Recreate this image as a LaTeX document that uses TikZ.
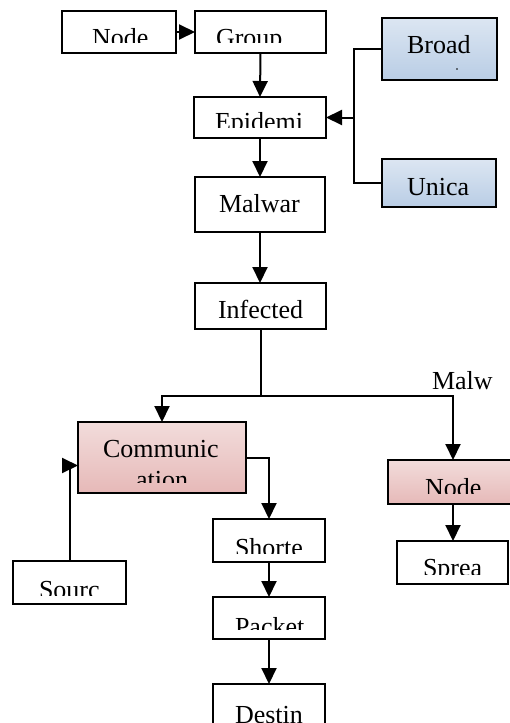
\documentclass[tikz,border=0pt]{standalone}
\usepackage{fontspec}
\setmainfont{Liberation Serif}
\usetikzlibrary{arrows.meta,calc}
\definecolor{bluetop}{HTML}{DCE6F2}
\definecolor{bluebot}{HTML}{B9CDE5}
\definecolor{pinktop}{HTML}{F2DCDB}
\definecolor{pinkbot}{HTML}{E6B9B8}
\tikzset{
  box/.style={draw=black, line width=2pt, rectangle, inner sep=0pt, outer sep=0pt, anchor=north west},
  wbox/.style={box, fill=white},
  bbox/.style={box, top color=bluetop, bottom color=bluebot},
  pbox/.style={box, top color=pinktop, bottom color=pinkbot},
  lbl/.style={anchor=base west, inner sep=0pt, outer sep=0pt, font=\fontsize{26}{31}\selectfont},
  conn/.style={line width=2pt, draw=black},
  arr/.style={conn, -{Triangle[length=16pt,width=15pt]}}
}
\begin{document}
\begin{tikzpicture}[x=1pt,y=-1pt]
\useasboundingbox (0,0) rectangle (509,723);
% boxes
\node[wbox, minimum width=114pt, minimum height=42pt] (nodeA) at (62,11) {};
\node[wbox, minimum width=131pt, minimum height=42pt] (group) at (195,11) {};
\node[bbox, minimum width=115pt, minimum height=62pt] (broad) at (382,18) {};
\node[wbox, minimum width=132pt, minimum height=41pt] (epid) at (194,97) {};
\node[bbox, minimum width=114pt, minimum height=48pt] (unica) at (382,159) {};
\node[wbox, minimum width=130pt, minimum height=55pt] (malwar) at (195,177) {};
\node[wbox, minimum width=131pt, minimum height=46pt] (infected) at (195,283) {};
\node[pbox, minimum width=168pt, minimum height=71pt] (comm) at (78,422) {};
\node[pbox, minimum width=130pt, minimum height=44pt] (nodeB) at (388,460) {};
\node[wbox, minimum width=113pt, minimum height=43pt] (source) at (13,561) {};
\node[wbox, minimum width=112pt, minimum height=43pt] (shorte) at (213,519) {};
\node[wbox, minimum width=111pt, minimum height=43pt] (sprea) at (397,541) {};
\node[wbox, minimum width=112pt, minimum height=42pt] (packet) at (213,597) {};
\node[wbox, minimum width=112pt, minimum height=45pt] (destin) at (213,684) {};
% texts (clipped as in the reference)
\begin{scope}\clip (64,13) rectangle (174,42);
\node[lbl] (tNodeA) at (92,46) {Node};\end{scope}
\begin{scope}\clip (197,13) rectangle (324,42);
\node[lbl] (tGroup) at (216,46) {Group};\end{scope}
\node[lbl] (tBroad) at (407,53) {Broad};
\fill (457,69) circle (0.8pt);
\begin{scope}\clip (196,99) rectangle (324,127);
\node[lbl] (tEpid) at (215,130) {Epidemi};\end{scope}
\node[lbl] (tUnica) at (407,195) {Unica};
\node[lbl] (tMalwar) at (219,212) {Malwar};
\node[lbl] (tInfected) at (218,318) {Infected};
\node[lbl] (tComm) at (103,457) {Communic};
\begin{scope}\clip (80,462) rectangle (244,482);
\node[lbl] (tComm2) at (136,488) {ation};\end{scope}
\begin{scope}\clip (390,462) rectangle (509,493);
\node[lbl] (tNodeB) at (425,496) {Node};\end{scope}
\begin{scope}\clip (15,563) rectangle (124,595);
\node[lbl] (tSource) at (39,598) {Sourc};\end{scope}
\begin{scope}\clip (215,521) rectangle (323,553);
\node[lbl] (tShorte) at (235,556) {Shorte};\end{scope}
\begin{scope}\clip (399,543) rectangle (506,574);
\node[lbl] (tSprea) at (423,576) {Sprea};\end{scope}
\begin{scope}\clip (215,599) rectangle (323,629);
\node[lbl] (tPacket) at (235,635) {Packet};\end{scope}
\begin{scope}\clip (215,686) rectangle (323,722);
\node[lbl] (tDestin) at (235,723) {Destin};\end{scope}
\node[lbl] (tMalw) at (432,389) {Malw};
% connectors
\coordinate (jB) at (354,117.5);
\coordinate (jI) at (260.5,396);
\draw[arr] (nodeA.east) -- (group.west);
\draw[arr] (group.south) -- (epid.north);
\draw[arr] (epid.south) -- (malwar.north);
\draw[arr] (malwar.south) -- (infected.north -| malwar.south);
\draw[conn] (broad.west) -| (jB);
\draw[conn] (unica.west) -| (jB);
\draw[arr] (jB) -- (epid.east);
\draw[conn] (infected.south) -- (jI);
\draw[arr] (jI) -| (comm.north);
\draw[arr] (jI) -| (nodeB.north);
\draw[arr] (comm.east) -| (shorte.north);
\draw[arr] (source.north) |- ([yshift=-8pt]comm.west);
\draw[arr] (nodeB.south) -- (sprea.north -| nodeB.south);
\draw[arr] (shorte.south) -- (packet.north);
\draw[arr] (packet.south) -- (destin.north);
\end{tikzpicture}
\end{document}
